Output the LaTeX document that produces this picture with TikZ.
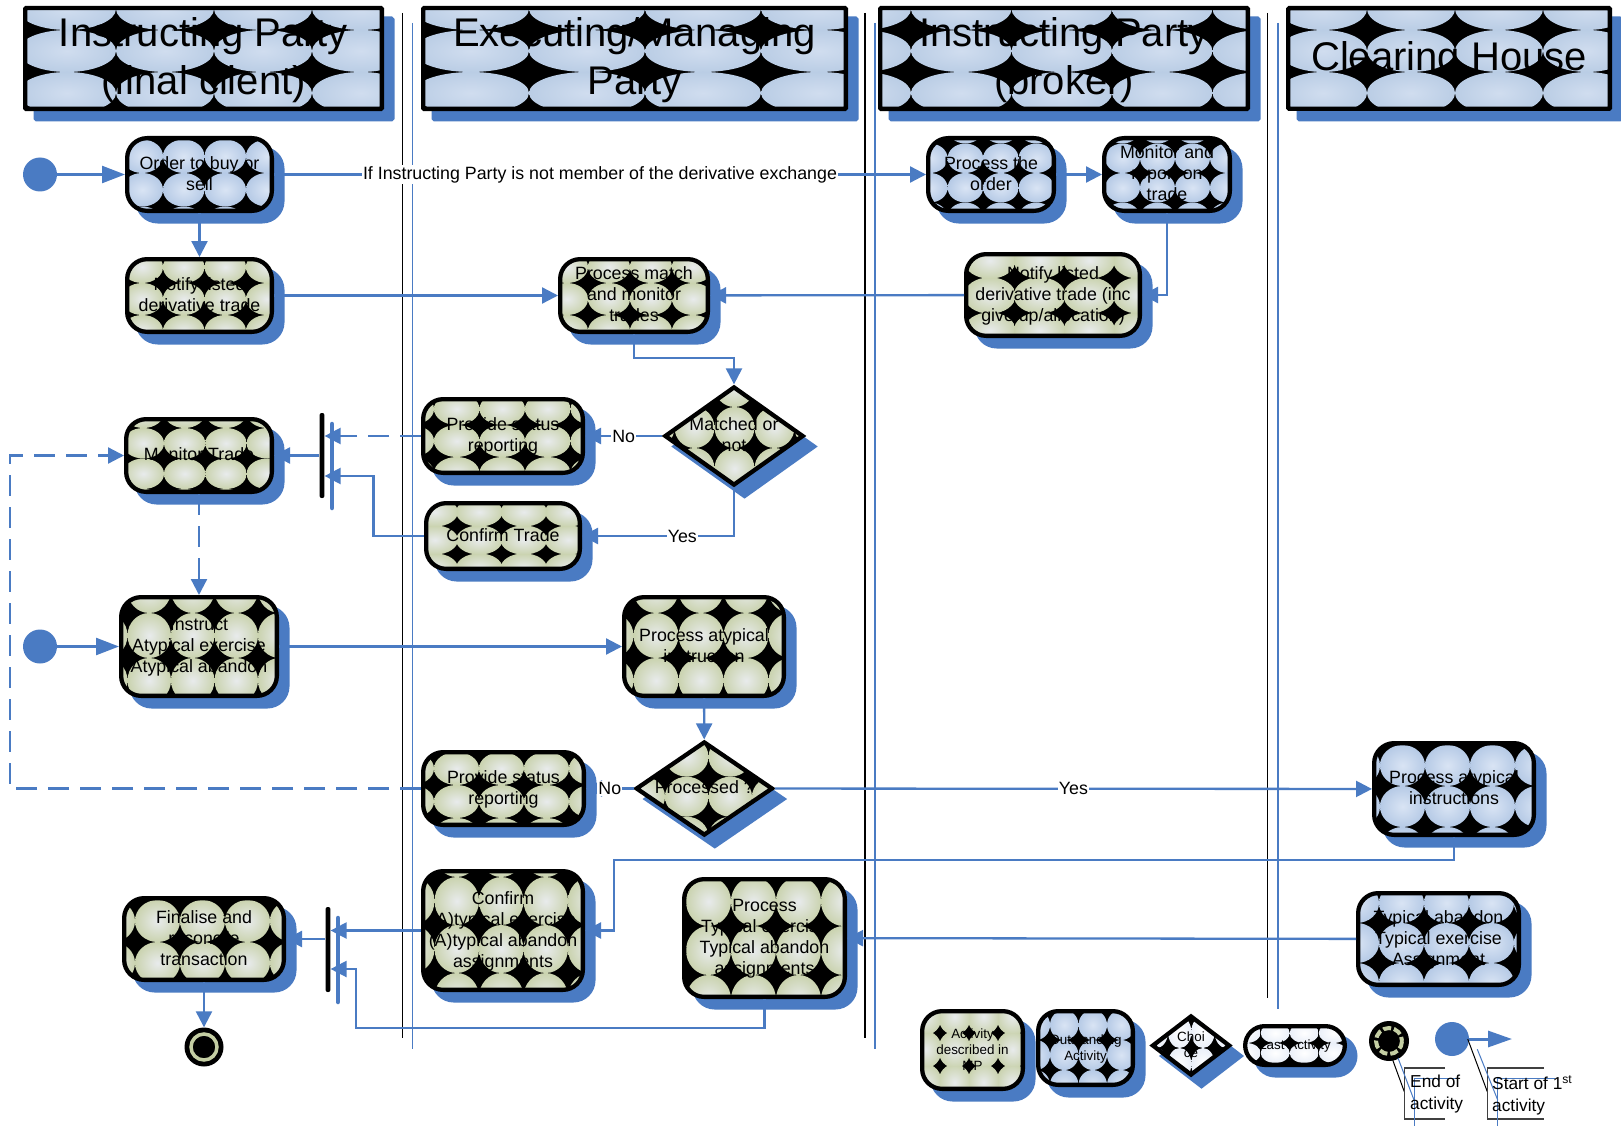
\documentclass[tikz,border=0pt]{standalone}
\usepackage{fontspec}
\setmainfont{Liberation Sans}
\usetikzlibrary{arrows.meta,shapes.geometric,calc}
\definecolor{cblue}{HTML}{4A7BC3}
\definecolor{ttlO}{HTML}{B6CAE3}\definecolor{ttlI}{HTML}{D0DDEF}
\definecolor{bluO}{HTML}{AFC5E3}\definecolor{bluI}{HTML}{D9E4F4}
\definecolor{olvO}{HTML}{C4CEA3}\definecolor{olvI}{HTML}{E8EBEC}
\definecolor{whtO}{HTML}{E6ECF7}\definecolor{whtI}{HTML}{FFFFFF}
\pgfdeclareradialshading{balltt}{\pgfpointorigin}{color(0bp)=(ttlI);color(30bp)=(ttlO);color(50bp)=(ttlO)}
\pgfdeclareradialshading{ballbl}{\pgfpointorigin}{color(0bp)=(bluI);color(30bp)=(bluO);color(50bp)=(bluO)}
\pgfdeclareradialshading{ballol}{\pgfpointorigin}{color(0bp)=(olvI);color(30bp)=(olvO);color(50bp)=(olvO)}
\pgfdeclareradialshading{ballwh}{\pgfpointorigin}{color(0bp)=(whtI);color(30bp)=(whtO);color(50bp)=(whtO)}
\newcommand{\topstrut}{\rule{0pt}{\dimexpr\ht\strutbox+0.12em\relax}}
\newcommand{\cenfix}[1]{\topstrut #1\strut}
\tikzset{
  cent/.style={inner sep=0pt,align=center},
  boxn/.style={cent,draw=black,line width=4.3pt},
  conn/.style={draw=cblue,line width=2.3pt,-{Triangle[length=16pt,width=16pt]}},
  startconn/.style={draw=cblue,line width=2.4pt,-{Triangle[length=23pt,width=17pt]}},
  lbl/.style={fill=white,inner sep=1pt,font=\fontsize{17.8}{21}\selectfont},
  startdot/.style={circle,fill=cblue,minimum size=34pt,inner sep=0pt},
  lane/.style={draw=black,line width=1.4pt},
  laneb/.style={draw=cblue,line width=1.4pt},
  thin blue/.style={draw=cblue,line width=1pt},
  thin black/.style={draw=black,line width=1pt},
  bracket/.style={draw=black!75,line width=1.2pt},
  calltext/.style={anchor=north west,inner sep=0pt,align=left,font=\fontsize{17.3}{22}\selectfont}
}
\newcommand{\patt}[6]{\def\pshd{ball#1}\def\pox{#2}\def\poy{#3}\def\ptw{#4}\def\pth{#5}\def\prr{#6}}
\newcommand{\tilefill}[4]{%
  \fill[black] (#1,#2) rectangle (#3,#4);
  \pgfmathtruncatemacro\ia{floor((#1-\pox)/\ptw)}%
  \pgfmathtruncatemacro\ib{floor((#3-\pox)/\ptw)}%
  \pgfmathtruncatemacro\ja{floor((#2-\poy)/\pth)}%
  \pgfmathtruncatemacro\jb{floor((#4-\poy)/\pth)}%
  \foreach \i in {\ia,...,\ib}{\foreach \j in {\ja,...,\jb}{%
    \pgfmathsetmacro\tx{\pox+\i*\ptw}\pgfmathsetmacro\ty{\poy+\j*\pth}%
    \pgfmathsetmacro\ex{\tx+\ptw/2}\pgfmathsetmacro\ey{\ty+\pth/2}%
    \pgfmathsetmacro\rx{\prr*\ptw/2}\pgfmathsetmacro\ry{\prr*\pth/2}%
    \begin{scope}
      \clip (\tx,\ty) rectangle ++(\ptw,\pth);
      \shade[shading=\pshd] (\ex,\ey) ellipse [x radius=\rx,y radius=\ry];
    \end{scope}
  }}%
}
% outer extents x1 y1 x2 y2
\newcommand{\actbox}[7][18]{%
  \pgfmathsetmacro\xa{#3+2.15}\pgfmathsetmacro\ya{#4+2.15}%
  \pgfmathsetmacro\xb{#5-2.15}\pgfmathsetmacro\yb{#6-2.15}%
  \fill[cblue,draw=cblue,line width=4.3pt,rounded corners=#1pt] (\xa+10.5,\ya+10.5) rectangle (\xb+10.5,\yb+10.5);
  \begin{scope}
    \clip[rounded corners=#1pt] (\xa,\ya) rectangle (\xb,\yb);
    \tilefill{\xa}{\ya}{\xb}{\yb}
  \end{scope}
  \pgfmathsetmacro\cx{(#3+#5)/2}\pgfmathsetmacro\cy{(#4+#6)/2}%
  \pgfmathsetmacro\ww{#5-#3-4.3}\pgfmathsetmacro\hh{#6-#4-4.3}%
  \node (#2) [boxn,rounded corners=#1pt,minimum width=\ww pt,minimum height=\hh pt,font=\curfont] at (\cx,\cy) {\cenfix{#7}};
}
% id, centre x y, path size w h
\newcommand{\actdia}[5]{%
  \pgfmathsetmacro\xa{#2-#4/2}\pgfmathsetmacro\xb{#2+#4/2}%
  \pgfmathsetmacro\ya{#3-#5/2}\pgfmathsetmacro\yb{#3+#5/2}%
  \pgfmathsetmacro\asp{#4/#5}%
  \fill[cblue,draw=cblue,line width=4.3pt] (\xa+10.5,#3+10.5) -- (#2+10.5,\ya+10.5) -- (\xb+10.5,#3+10.5) -- (#2+10.5,\yb+10.5) -- cycle;
  \begin{scope}
    \clip (\xa,#3) -- (#2,\ya) -- (\xb,#3) -- (#2,\yb) -- cycle;
    \tilefill{\xa}{\ya}{\xb}{\yb}
  \end{scope}
  \node (#1) [draw=black,line width=4.3pt,shape=diamond,shape aspect=\asp,inner sep=0pt,minimum width=#4pt,minimum height=#5pt] at (#2,#3) {};
}
\newcommand{\synbar}[4]{%
  \pgfmathsetmacro\cy{(#3+#4)/2}\pgfmathsetmacro\hh{#4-#3}%
  \draw[draw=cblue,line width=4.5pt,line cap=round] (#2+10,#3+11) -- (#2+10,#4+10);
  \node (#1) [fill=black,rounded corners=2pt,inner sep=0pt,minimum width=4.8pt,minimum height=\hh pt] at (#2,\cy) {};
}
\begin{document}
\begin{tikzpicture}[x=1pt,y=-1pt]
\useasboundingbox (0,0) rectangle (1621,1126);
\fill[white] (0,0) rectangle (1621,1126);
% swim lanes
\foreach \n/\xk/\xb/\yend/\ybend in {a/402.5/412.5/1038/1049,b/865/875/1038/1049,c/1267.5/1278/998/1009}{
  \coordinate (lane\n t) at (\xk,13); \coordinate (lane\n e) at (\xk,\yend);
  \coordinate (lane\n bt) at (\xb,23); \coordinate (lane\n be) at (\xb,\ybend);
  \draw[laneb] (lane\n bt) -- (lane\n be);
  \draw[lane] (lane\n t) -- (lane\n e);
}
% titles
\def\curfont{\fontsize{40}{48}\selectfont}
\patt{tt}{116}{30}{98}{42}{1}
\actbox[1]{t1}{23}{6}{384}{111}{Instructing Party\\(final client)}
\patt{tt}{529}{30}{116}{42}{1}
\actbox[1]{t2}{421}{6}{848}{111}{Executing/Managing\\Party}
\patt{tt}{911}{30}{100.5}{42}{1}
\actbox[1]{t3}{878}{6}{1250}{111}{Instructing Party\\(broker)}
\patt{tt}{1367}{30}{88}{42}{1}
\actbox[1]{t4}{1286}{6}{1612}{111}{Clearing House}
% activities
\def\curfont{\fontsize{17.8}{21}\selectfont}
\patt{bl}{163}{173}{41.5}{33.5}{1}
\actbox[20]{order}{125}{136}{274}{213}{Order to buy or\\sell}
\patt{ol}{163}{283}{41.5}{32}{1}
\actbox[20]{notify}{125}{257}{274}{334}{Notify listed\\derivative trade}
\patt{ol}{588}{283}{42}{32}{1}
\actbox[20]{match}{558}{257}{710}{334}{Process match\\and monitor\\trades}
\patt{bl}{947.6}{173}{35.5}{29.5}{1}
\actbox[20]{porder}{926}{136}{1056}{213}{Process the\\order}
\patt{bl}{1140}{173}{35}{29.5}{1}
\actbox[20]{monrep}{1102}{136}{1232}{213}{Monitor and\\report on\\trade}
\patt{ol}{1014.7}{278}{49.7}{35}{1.04}
\actbox[20]{ninc}{964}{252}{1142}{338}{Notify listed\\derivative trade (inc\\give up/allocation)}
\patt{ol}{479.5}{425}{45.5}{32}{1}
\actbox[20]{prov}{421}{397}{585}{475}{Provide status\\reporting}
\patt{ol}{457}{526}{44.5}{28}{1.04}
\actbox[20]{cfm}{424}{501}{582}{571}{Confirm Trade}
\patt{ol}{164}{428}{41.3}{30.5}{1}
\actbox[20]{mon}{124}{417}{274}{494}{Monitor Trade}
\patt{ol}{171}{613}{43.5}{45}{1}
\actbox[20]{instr}{119}{595}{279}{698}{Instruct\\Atypical exercise\\Atypical abandon}
\patt{ol}{678.5}{613}{45}{45}{1}
\actbox[20]{patyp}{622}{595}{786}{698}{Process atypical\\instruction}
\patt{ol}{479}{785}{45}{33}{1}
\actbox[20]{prov2}{421}{750}{586}{827}{Provide status\\reporting}
\patt{bl}{1380}{786}{45}{41}{1}
\actbox[20]{pai}{1372}{741}{1536}{837}{Process atypical\\instructions}
\patt{bl}{1379}{923}{45}{40}{1}
\actbox[20]{tab}{1356}{891}{1521}{987}{Typical abandon\\Typical exercise\\Assignment}
\patt{ol}{479}{925}{44.5}{48}{1}
\actbox[20]{conf}{421}{869}{585}{992}{Confirm\\(A)typical exercise\\(A)typical abandon\\assignments}
\patt{ol}{731}{926}{45}{49}{1}
\actbox[20]{ptyp}{682}{877}{847}{999}{Process\\Typical exercise\\Typical abandon\\assignments}
\patt{ol}{180}{942}{45}{42}{1}
\actbox[20]{fin}{122}{896}{286}{982}{Finalise and\\reconcile\\transaction}
% diamonds
\patt{ol}{714.5}{407}{40}{41}{1}
\actdia{dia}{734}{436}{139}{99}
\node (dia-t) [cent,font=\curfont] at (dia) {\cenfix{Matched or\\not}};
\patt{ol}{665}{776.7}{43.5}{40}{1}
\actdia{diap}{704.3}{788.5}{137}{94}
\node (diap-t) [cent,font=\curfont] at (diap) {\cenfix{Processed ?}};
% sync bars
\synbar{bar1}{322}{413}{498}
\synbar{bar2}{328}{907}{992}
% start / end
\node (st1) [startdot] at (40,174.5) {};
\node (st2) [startdot] at (40,646.5) {};
\node (endn) [circle,fill=black,minimum size=39pt,inner sep=0pt] at (204,1047) {};
\draw[draw=olvO,line width=3.5pt] (endn) circle [radius=13];
% connectors
\draw[startconn] (st1) -- (order);
\draw[startconn] (st2) -- (instr);
\draw[conn] (order) -- (porder) node[lbl,pos=.5] (lab0) {If Instructing Party is not member of the derivative exchange};
\draw[conn] (order) -- (notify);
\draw[conn] (porder) -- (monrep);
\draw[conn] (monrep.south) |- (ninc.east);
\draw[conn] (notify) -- (match);
\draw[conn] (ninc) -- (match);
\coordinate (w1) at (734,358);
\draw[conn] (match.south) |- (w1) -- (dia.north);
\draw[conn] (dia) -- (prov) node[lbl,midway] (lab1) {No};
\draw[conn] (dia.south) |- (cfm.east) node[lbl,pos=.67] (lab2) {Yes};
\draw[conn,dash pattern=on 21pt off 11pt] (prov.west) -- (prov.west -| bar1.east);
\coordinate (w2) at (373.5,476);
\draw[conn] (cfm.west) -| (w2) -- (w2 -| bar1.east);
\draw[conn] (mon.east -| bar1.west) -- (mon.east);
\draw[conn,dash pattern=on 21pt off 11pt] (mon.south) -- (instr.north);
\coordinate (w3) at (10,455.5);
\draw[conn,dash pattern=on 21pt off 11pt] (prov2.west) -| (w3) -- (mon.west);
\draw[conn] (instr) -- (patyp);
\draw[conn] (patyp) -- (diap);
\draw[conn] (diap) -- (prov2) node[lbl,pos=.5] (lab3) {No};
\draw[conn] (diap) -- (pai) node[lbl,pos=.5] (lab4) {Yes};
\coordinate (w4) at (614,860);
\draw[conn] (pai.south) |- (w4) |- (conf.east);
\draw[conn] (tab) -- (ptyp);
\draw[conn] (conf.west) -- (conf.west -| bar2.east);
\coordinate (w5) at (355.7,1028);
\coordinate (w6) at (355.7,969);
\draw[conn] (ptyp.south) |- (w5) -- (w6) -- (w6 -| bar2.east);
\draw[conn] (fin.east -| bar2.west) -- (fin.east);
\draw[conn] (fin.south) -- (endn.north);
% legend
\def\curfont{\fontsize{13.4}{16}\selectfont}
\patt{ol}{940}{1033}{29}{33}{1.12}
\actbox[20]{lact}{920}{1009}{1025}{1091}{Activity\\described in\\MP}
\patt{bl}{1050}{1040}{28.5}{30}{1}
\actbox[20]{lout}{1036}{1009}{1135}{1087}{Outstanding\\Activity}
\patt{wh}{1168}{1048}{23.3}{32}{1}
\actdia{lcho}{1191}{1045.5}{78}{60}
\node (lcho-t) [cent,font=\curfont] at (lcho) {\cenfix{Choi\\ce}};
\patt{wh}{1260.7}{1043}{29}{20}{1}
\actbox[19.5]{llast}{1243}{1024}{1347}{1067}{Last Activity}
% legend end symbol
\node (lend) [circle,fill=black,minimum size=40pt,inner sep=0pt] at (1389,1041) {};
\draw[draw=olvO,line width=4pt,dash pattern=on 8pt off 3pt] (lend) circle [radius=13];
\node (lstart) [startdot] at (1452,1039) {};
\coordinate (lsa) at (1512,1039);
\draw[draw=cblue,line width=3pt,-{Triangle[length=24pt,width=16pt]}] (lstart.east) -- (lsa);
% callouts
\coordinate (ca1) at (1392.7,1060); \coordinate (ca2) at (1404.3,1091.7);
\coordinate (ca3) at (1445,1068); \coordinate (ca4) at (1404.3,1068); \coordinate (ca5) at (1404.3,1119); \coordinate (ca6) at (1445,1119);
\draw[thin black] (ca1) -- (ca2);
\draw[bracket] (ca3) -- (ca4) -- (ca5) -- (ca6);
\coordinate (cb1) at (1398,1058); \coordinate (cb2) at (1414,1100);
\coordinate (cb3) at (1414,1078); \coordinate (cb4) at (1414,1126); \coordinate (cb5) at (1456.7,1078);
\draw[thin blue] (cb1) -- (cb2);
\draw[thin blue] (cb5) -- (cb3) -- (cb4);
\node (ctx1) [calltext] at (1410,1075) {End of\\activity};
\coordinate (da1) at (1467.7,1039); \coordinate (da2) at (1487.3,1091.7);
\coordinate (da3) at (1544,1068); \coordinate (da4) at (1487.3,1068); \coordinate (da5) at (1487.3,1119); \coordinate (da6) at (1544,1119);
\draw[thin black] (da1) -- (da2);
\draw[bracket] (da3) -- (da4) -- (da5) -- (da6);
\coordinate (db1) at (1477.3,1049.3); \coordinate (db2) at (1497.7,1100);
\coordinate (db3) at (1497.7,1078); \coordinate (db4) at (1497.7,1126); \coordinate (db5) at (1555,1078);
\draw[thin blue] (db1) -- (db2);
\draw[thin blue] (db5) -- (db3) -- (db4);
\node (ctx2) [calltext] at (1492,1075) {Start of 1\textsuperscript{st}\\activity};
\end{tikzpicture}
\end{document}
